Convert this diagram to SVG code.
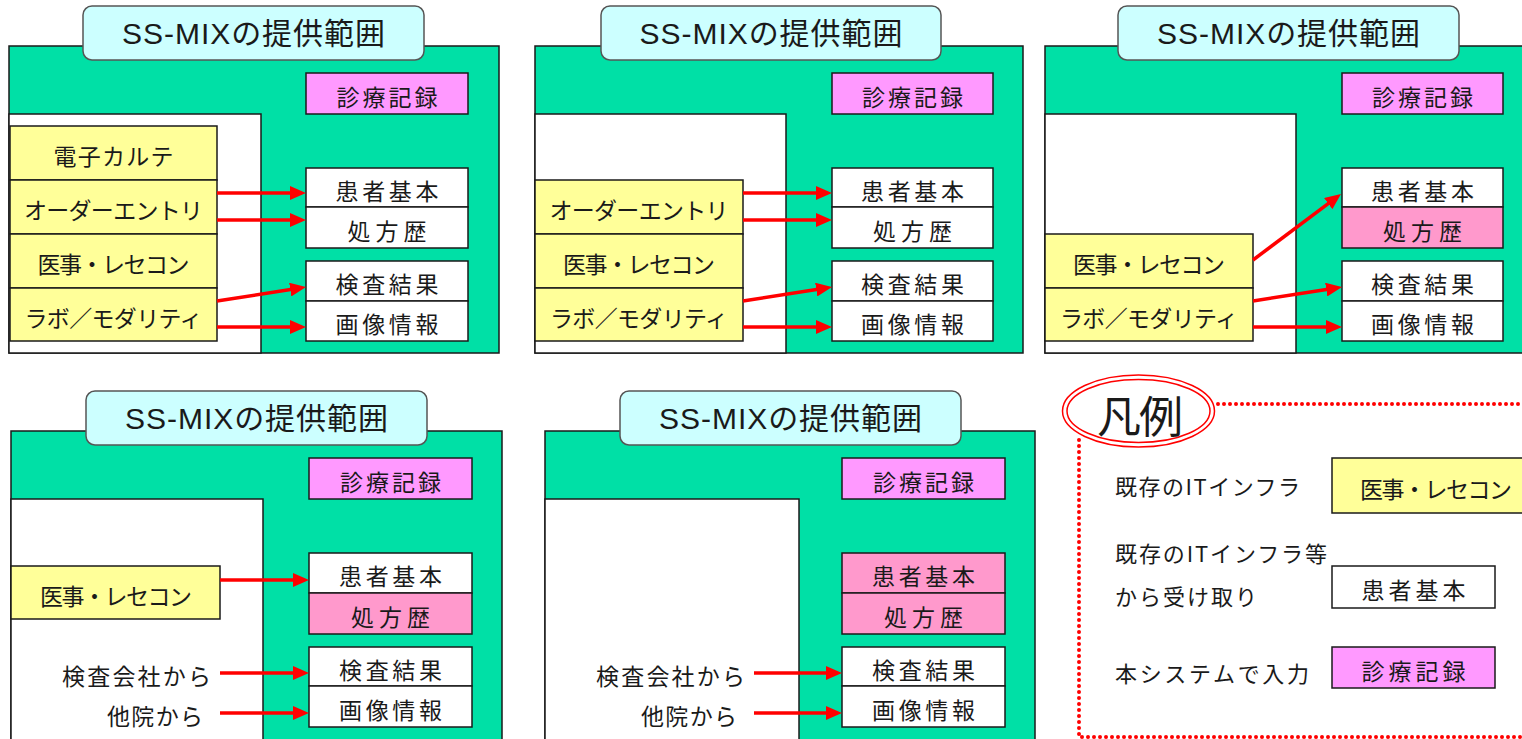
<svg xmlns="http://www.w3.org/2000/svg" width="1522" height="739" viewBox="0 0 1522 739">
<defs>
<style>
.green{fill:#00e0a6;stroke:#1a1a1a;stroke-width:1.5}
.inner{fill:#ffffff;stroke:#1a1a1a;stroke-width:1.5}
.title{fill:#ccffff;stroke:#555;stroke-width:1.5}
.rec{fill:#ff99ff;stroke:#1a1a1a;stroke-width:1.5}
.yel{fill:#ffff99;stroke:#1a1a1a;stroke-width:1.5}
.wht{fill:#ffffff;stroke:#1a1a1a;stroke-width:1.5}
.pk{fill:#ff99cc;stroke:#1a1a1a;stroke-width:1.5}
.t{font-family:"Noto Sans CJK JP","Noto Sans CJK SC",sans-serif;font-size:23px;fill:#1a1a1a;text-anchor:middle;dominant-baseline:central}
.te{font-family:"Noto Sans CJK JP","Noto Sans CJK SC",sans-serif;font-size:23px;fill:#1a1a1a;text-anchor:end;dominant-baseline:central}
.ts{font-family:"Noto Sans CJK JP","Noto Sans CJK SC",sans-serif;font-size:22px;fill:#1a1a1a;text-anchor:start;dominant-baseline:central}
.tt{font-family:"Liberation Sans","Noto Sans CJK JP",sans-serif;font-size:30px;fill:#1a1a1a;text-anchor:middle;dominant-baseline:central}
.arr{stroke:#ff0000;stroke-width:3.5;fill:none;marker-end:url(#ah)}
.dot{stroke:#ff0000;stroke-width:4;stroke-linecap:round;stroke-dasharray:0 6;fill:none}
.ell{fill:none;stroke:#ff0000;stroke-width:1.5}
</style>
<marker id="ah" markerUnits="userSpaceOnUse" markerWidth="18" markerHeight="14" refX="10" refY="7" orient="auto">
<path d="M0,0 L16,7 L0,14 z" fill="#ff0000"/>
</marker>
</defs>
<rect width="1522" height="739" fill="#ffffff"/>

<!-- Panel 1 -->
<g id="panel1">
<rect class="green" x="9" y="46" width="490" height="307"/>
<rect class="inner" x="9" y="114" width="252" height="239"/>
<rect class="title" x="83" y="6" width="341" height="54" rx="9"/>
<text class="tt" x="253.5" y="33" textLength="263" lengthAdjust="spacing">SS-MIXの提供範囲</text>
</g>
<g id="p1-rec"><rect class="rec" x="306" y="73" width="162" height="41"/><text class="t" x="387" y="95.5" textLength="101" lengthAdjust="spacing">診療記録</text></g>
<g id="p1-emr"><rect class="yel" x="10" y="126" width="207" height="54"/><text class="t" x="113.5" y="155" textLength="120" lengthAdjust="spacing">電子カルテ</text></g>
<g id="p1-order"><rect class="yel" x="10" y="180" width="207" height="54"/><text class="t" x="113.5" y="209" textLength="179" lengthAdjust="spacing">オーダーエントリ</text></g>
<g id="p1-ijiu"><rect class="yel" x="10" y="234" width="207" height="54"/><text class="t" x="113.5" y="263" textLength="152" lengthAdjust="spacing">医事・レセコン</text></g>
<g id="p1-lab"><rect class="yel" x="10" y="288" width="207" height="53"/><text class="t" x="113.5" y="317" textLength="178" lengthAdjust="spacing">ラボ／モダリティ</text></g>
<g id="p1-pt"><rect class="wht" x="306" y="168" width="162" height="39"/><text class="t" x="387" y="189.5" textLength="103" lengthAdjust="spacing">患者基本</text></g>
<g id="p1-rx"><rect class="wht" x="306" y="207" width="162" height="41"/><text class="t" x="387" y="229.5" textLength="79" lengthAdjust="spacing">処方歴</text></g>
<g id="p1-test"><rect class="wht" x="306" y="261" width="162" height="40"/><text class="t" x="387" y="283" textLength="103" lengthAdjust="spacing">検査結果</text></g>
<g id="p1-img"><rect class="wht" x="306" y="301" width="162" height="40"/><text class="t" x="387" y="323" textLength="103" lengthAdjust="spacing">画像情報</text></g>

<!-- Panel 2 -->
<g id="panel2">
<rect class="green" x="535" y="46" width="488" height="307"/>
<rect class="inner" x="535" y="114" width="251" height="239"/>
<rect class="title" x="601" y="6" width="340" height="54" rx="9"/>
<text class="tt" x="771" y="33" textLength="263" lengthAdjust="spacing">SS-MIXの提供範囲</text>
</g>
<g id="p2-rec"><rect class="rec" x="832" y="73" width="161" height="41"/><text class="t" x="912.5" y="95.5" textLength="101" lengthAdjust="spacing">診療記録</text></g>
<g id="p2-order"><rect class="yel" x="535" y="180" width="208" height="54"/><text class="t" x="639" y="209" textLength="179" lengthAdjust="spacing">オーダーエントリ</text></g>
<g id="p2-ijiu"><rect class="yel" x="535" y="234" width="208" height="54"/><text class="t" x="639" y="263" textLength="152" lengthAdjust="spacing">医事・レセコン</text></g>
<g id="p2-lab"><rect class="yel" x="535" y="288" width="208" height="53"/><text class="t" x="639" y="317" textLength="178" lengthAdjust="spacing">ラボ／モダリティ</text></g>
<g id="p2-pt"><rect class="wht" x="832" y="168" width="161" height="39"/><text class="t" x="912.5" y="189.5" textLength="103" lengthAdjust="spacing">患者基本</text></g>
<g id="p2-rx"><rect class="wht" x="832" y="207" width="161" height="41"/><text class="t" x="912.5" y="229.5" textLength="79" lengthAdjust="spacing">処方歴</text></g>
<g id="p2-test"><rect class="wht" x="832" y="261" width="161" height="40"/><text class="t" x="912.5" y="283" textLength="103" lengthAdjust="spacing">検査結果</text></g>
<g id="p2-img"><rect class="wht" x="832" y="301" width="161" height="40"/><text class="t" x="912.5" y="323" textLength="103" lengthAdjust="spacing">画像情報</text></g>

<!-- Panel 3 -->
<g id="panel3">
<rect class="green" x="1045" y="46" width="490" height="307"/>
<rect class="inner" x="1045" y="114" width="251" height="239"/>
<rect class="title" x="1118" y="6" width="341" height="54" rx="9"/>
<text class="tt" x="1288.5" y="33" textLength="263" lengthAdjust="spacing">SS-MIXの提供範囲</text>
</g>
<g id="p3-rec"><rect class="rec" x="1342" y="73" width="161" height="41"/><text class="t" x="1422.5" y="95.5" textLength="101" lengthAdjust="spacing">診療記録</text></g>
<g id="p3-ijiu"><rect class="yel" x="1045" y="234" width="208" height="54"/><text class="t" x="1149" y="263" textLength="152" lengthAdjust="spacing">医事・レセコン</text></g>
<g id="p3-lab"><rect class="yel" x="1045" y="288" width="208" height="53"/><text class="t" x="1149" y="317" textLength="178" lengthAdjust="spacing">ラボ／モダリティ</text></g>
<g id="p3-pt"><rect class="wht" x="1342" y="168" width="161" height="39"/><text class="t" x="1422.5" y="189.5" textLength="103" lengthAdjust="spacing">患者基本</text></g>
<g id="p3-rx"><rect class="pk" x="1342" y="207" width="161" height="41"/><text class="t" x="1422.5" y="229.5" textLength="79" lengthAdjust="spacing">処方歴</text></g>
<g id="p3-test"><rect class="wht" x="1342" y="261" width="161" height="40"/><text class="t" x="1422.5" y="283" textLength="103" lengthAdjust="spacing">検査結果</text></g>
<g id="p3-img"><rect class="wht" x="1342" y="301" width="161" height="40"/><text class="t" x="1422.5" y="323" textLength="103" lengthAdjust="spacing">画像情報</text></g>

<!-- Panel 4 -->
<g id="panel4">
<rect class="green" x="11" y="431" width="491" height="320"/>
<rect class="inner" x="11" y="499" width="252" height="252"/>
<rect class="title" x="86" y="391" width="341" height="54" rx="9"/>
<text class="tt" x="256.5" y="418" textLength="263" lengthAdjust="spacing">SS-MIXの提供範囲</text>
</g>
<g id="p4-rec"><rect class="rec" x="309" y="458" width="163" height="41"/><text class="t" x="390.5" y="480.5" textLength="101" lengthAdjust="spacing">診療記録</text></g>
<g id="p4-ijiu"><rect class="yel" x="11" y="566" width="209" height="53"/><text class="t" x="116" y="594.5" textLength="152" lengthAdjust="spacing">医事・レセコン</text></g>
<g id="p4-lab"><text class="te" x="211" y="675" textLength="149" lengthAdjust="spacing">検査会社から</text></g>
<g id="p4-other"><text class="te" x="203" y="715" textLength="96" lengthAdjust="spacing">他院から</text></g>
<g id="p4-pt"><rect class="wht" x="309" y="553" width="163" height="40"/><text class="t" x="390.5" y="575" textLength="103" lengthAdjust="spacing">患者基本</text></g>
<g id="p4-rx"><rect class="pk" x="309" y="593" width="163" height="41"/><text class="t" x="390.5" y="615.5" textLength="79" lengthAdjust="spacing">処方歴</text></g>
<g id="p4-test"><rect class="wht" x="309" y="647" width="163" height="39"/><text class="t" x="390.5" y="668.5" textLength="103" lengthAdjust="spacing">検査結果</text></g>
<g id="p4-img"><rect class="wht" x="309" y="686" width="163" height="41"/><text class="t" x="390.5" y="708.5" textLength="103" lengthAdjust="spacing">画像情報</text></g>

<!-- Panel 5 -->
<g id="panel5">
<rect class="green" x="545" y="431" width="490" height="320"/>
<rect class="inner" x="545" y="499" width="254" height="252"/>
<rect class="title" x="620" y="391" width="341" height="54" rx="9"/>
<text class="tt" x="790.5" y="418" textLength="263" lengthAdjust="spacing">SS-MIXの提供範囲</text>
</g>
<g id="p5-rec"><rect class="rec" x="842" y="458" width="163" height="41"/><text class="t" x="923.5" y="480.5" textLength="101" lengthAdjust="spacing">診療記録</text></g>
<g id="p5-lab"><text class="te" x="745" y="675" textLength="149" lengthAdjust="spacing">検査会社から</text></g>
<g id="p5-other"><text class="te" x="737" y="715" textLength="96" lengthAdjust="spacing">他院から</text></g>
<g id="p5-pt"><rect class="pk" x="842" y="553" width="163" height="40"/><text class="t" x="923.5" y="575" textLength="103" lengthAdjust="spacing">患者基本</text></g>
<g id="p5-rx"><rect class="pk" x="842" y="593" width="163" height="41"/><text class="t" x="923.5" y="615.5" textLength="79" lengthAdjust="spacing">処方歴</text></g>
<g id="p5-test"><rect class="wht" x="842" y="647" width="163" height="39"/><text class="t" x="923.5" y="668.5" textLength="103" lengthAdjust="spacing">検査結果</text></g>
<g id="p5-img"><rect class="wht" x="842" y="686" width="163" height="41"/><text class="t" x="923.5" y="708.5" textLength="103" lengthAdjust="spacing">画像情報</text></g>

<!-- Legend -->
<g id="legend">
<path class="dot" d="M1218,404 H1524"/>
<path class="dot" d="M1079,440 V737 H1524"/>
<ellipse cx="1138.5" cy="411" rx="76" ry="36" fill="#ffffff" stroke="none"/>
<ellipse class="ell" cx="1138.5" cy="411" rx="76" ry="36"/>
<ellipse class="ell" cx="1138.5" cy="411" rx="71.5" ry="31.5"/>
<text x="1140" y="414" font-family="Noto Sans CJK JP, sans-serif" font-size="44" fill="#1a1a1a" text-anchor="middle" dominant-baseline="central" textLength="86" lengthAdjust="spacing">凡例</text>
<text class="ts" x="1115" y="485" textLength="185" lengthAdjust="spacing">既存のITインフラ</text>
<text class="ts" x="1115" y="552" textLength="212" lengthAdjust="spacing">既存のITインフラ等</text>
<text class="ts" x="1115" y="595" textLength="142" lengthAdjust="spacing">から受け取り</text>
<text class="ts" x="1115" y="672" textLength="194" lengthAdjust="spacing">本システムで入力</text>
</g>
<g id="lg-yel"><rect class="yel" x="1332" y="458" width="200" height="55"/><text class="t" x="1436" y="488" textLength="152" lengthAdjust="spacing">医事・レセコン</text></g>
<g id="lg-wht"><rect class="wht" x="1332" y="566" width="163" height="42"/><text class="t" x="1413.5" y="589" textLength="104" lengthAdjust="spacing">患者基本</text></g>
<g id="lg-rec"><rect class="rec" x="1332" y="647" width="163" height="41"/><text class="t" x="1413.5" y="669.5" textLength="104" lengthAdjust="spacing">診療記録</text></g>

<!-- Connectors -->
<g id="connectors">
<line class="arr" x1="217" y1="193" x2="300" y2="193"/>
<line class="arr" x1="217" y1="220" x2="300" y2="220"/>
<line class="arr" x1="217" y1="301" x2="300.1" y2="288"/>
<line class="arr" x1="217" y1="327" x2="300" y2="327"/>

<line class="arr" x1="743" y1="193" x2="826" y2="193"/>
<line class="arr" x1="743" y1="220" x2="826" y2="220"/>
<line class="arr" x1="743" y1="301" x2="826.1" y2="288"/>
<line class="arr" x1="743" y1="327" x2="826" y2="327"/>

<line class="arr" x1="1253" y1="260" x2="1336.2" y2="197.6"/>
<line class="arr" x1="1253" y1="301" x2="1336.1" y2="288"/>
<line class="arr" x1="1253" y1="327" x2="1336" y2="327"/>

<line class="arr" x1="220" y1="580" x2="303" y2="580"/>
<line class="arr" x1="220" y1="673" x2="303" y2="673"/>
<line class="arr" x1="220" y1="713" x2="303" y2="713"/>

<line class="arr" x1="754" y1="673" x2="836" y2="673"/>
<line class="arr" x1="754" y1="713" x2="836" y2="713"/>
</g>
</svg>
